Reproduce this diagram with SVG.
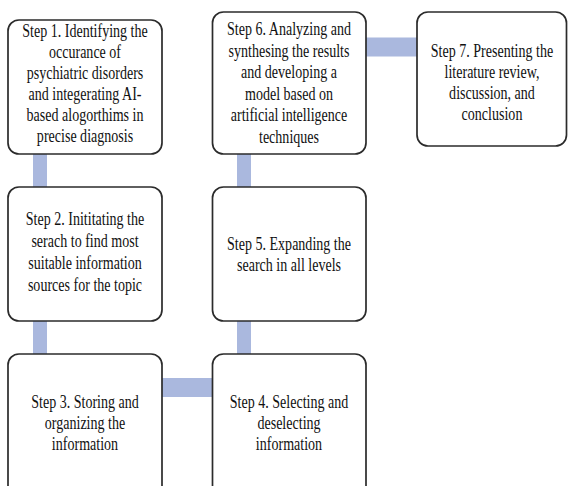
<svg xmlns="http://www.w3.org/2000/svg" width="568" height="486" viewBox="0 0 568 486">
<style>
.box{fill:#ffffff;stroke:#2b2b2b;stroke-width:1.7}
.con{fill:#aab8de}
text{font-family:'Liberation Serif','Times New Roman',Times,serif;font-size:19.5px;fill:#111111;text-anchor:middle}
</style>
<rect width="568" height="486" fill="#ffffff"/>
<g id="connectors">
<rect class="con" x="33" y="154" width="14" height="33"/>
<rect class="con" x="33" y="321" width="14" height="33"/>
<rect class="con" x="162" y="378" width="50" height="19"/>
<rect class="con" x="237" y="321" width="14" height="33"/>
<rect class="con" x="237" y="154" width="14" height="33"/>
<rect class="con" x="366" y="37.5" width="51" height="19"/>
</g>
<g id="step1">
<rect class="box" x="8" y="20" width="154" height="134" rx="11"/>
<text transform="translate(85,37) scale(0.72,1)">Step 1. Identifying the</text>
<text transform="translate(85,58) scale(0.72,1)">occurance of</text>
<text transform="translate(85,79) scale(0.72,1)">psychiatric disorders</text>
<text transform="translate(85,100) scale(0.72,1)">and integerating AI-</text>
<text transform="translate(85,121) scale(0.72,1)">based alogorthims in</text>
<text transform="translate(85,142) scale(0.72,1)">precise diagnosis</text>
</g>
<g id="step2">
<rect class="box" x="8" y="187" width="154" height="134" rx="11"/>
<text transform="translate(85,225) scale(0.72,1)">Step 2. Inititating the</text>
<text transform="translate(85,247) scale(0.72,1)">serach to find most</text>
<text transform="translate(85,269) scale(0.72,1)">suitable information</text>
<text transform="translate(85,291) scale(0.72,1)">sources for the topic</text>
</g>
<g id="step3">
<rect class="box" x="8" y="354" width="154" height="152" rx="11"/>
<text transform="translate(85,408) scale(0.72,1)">Step 3. Storing and</text>
<text transform="translate(85,429) scale(0.72,1)">organizing the</text>
<text transform="translate(85,450) scale(0.72,1)">information</text>
</g>
<g id="step4">
<rect class="box" x="212.5" y="354" width="153.5" height="152" rx="11"/>
<text transform="translate(289,408) scale(0.72,1)">Step 4. Selecting and</text>
<text transform="translate(289,429) scale(0.72,1)">deselecting</text>
<text transform="translate(289,450) scale(0.72,1)">information</text>
</g>
<g id="step5">
<rect class="box" x="212.5" y="187" width="153.5" height="134" rx="11"/>
<text transform="translate(289,250) scale(0.72,1)">Step 5. Expanding the</text>
<text transform="translate(289,271) scale(0.72,1)">search in all levels</text>
</g>
<g id="step6">
<rect class="box" x="212.5" y="12" width="153.5" height="142" rx="11"/>
<text transform="translate(289,35) scale(0.72,1)">Step 6. Analyzing and</text>
<text transform="translate(289,56.5) scale(0.72,1)">synthesing the results</text>
<text transform="translate(289,78) scale(0.72,1)">and developing a</text>
<text transform="translate(289,99.5) scale(0.72,1)">model based on</text>
<text transform="translate(289,121) scale(0.72,1)">artificial intelligence</text>
<text transform="translate(289,142.5) scale(0.72,1)">techniques</text>
</g>
<g id="step7">
<rect class="box" x="417" y="12" width="149.5" height="134" rx="11"/>
<text transform="translate(492,57) scale(0.72,1)">Step 7. Presenting the</text>
<text transform="translate(492,78) scale(0.72,1)">literature review,</text>
<text transform="translate(492,99) scale(0.72,1)">discussion, and</text>
<text transform="translate(492,120) scale(0.72,1)">conclusion</text>
</g>
</svg>
